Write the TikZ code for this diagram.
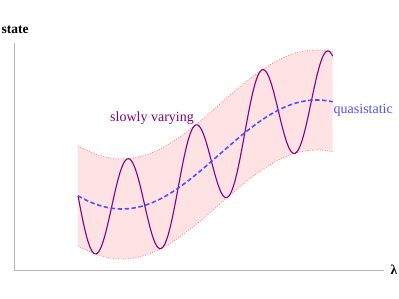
\documentclass[tikz,border=0pt]{standalone}
\usepackage{fontspec}
\setmainfont{Liberation Serif}
\begin{document}
\begin{tikzpicture}[x=1pt,y=-1pt,
  declare function={qq(\t)=154.5+54.5*cos((\t-122)*0.924499);
                    pp(\t)=qq(\t)+50*sin((\t-78)*5.39487);},
  axisline/.style={draw={rgb,255:red,180;green,180;blue,180},line width=0.9pt},
  envline/.style={draw={rgb,255:red,255;green,130;blue,130},line width=0.8pt,dash pattern=on 0.9pt off 1.6pt},
  bandfill/.style={fill={rgb,255:red,255;green,226;blue,228}},
  quasi/.style={draw={rgb,255:red,80;green,80;blue,255},line width=1.6pt,dash pattern=on 4.5pt off 2.5pt},
  slow/.style={draw={rgb,255:red,128;green,0;blue,128},line width=1.1pt},
  lbl/.style={inner sep=0pt,font=\fontsize{14}{16}\selectfont},
  axlbl/.style={inner sep=0pt,font=\fontsize{13.5}{16}\selectfont\bfseries}]
\useasboundingbox (0,0) rectangle (399,299);
% band
\path[bandfill] plot[domain=78:332.7,samples=80] (\x,{qq(\x)-50}) -- plot[domain=332.7:78,samples=80] (\x,{qq(\x)+50}) -- cycle;
\draw[envline] plot[domain=78:332.7,samples=80] (\x,{qq(\x)-50});
\draw[envline] plot[domain=78:332.7,samples=80] (\x,{qq(\x)+50});
% axes
\coordinate (o) at (14.3,270);
\coordinate (ytop) at (14.3,43);
\coordinate (xend) at (384,270);
\draw[axisline] (ytop) -- (o) -- (xend);
\node[axlbl,anchor=base west] (ylab) at (1.5,34) {state};
\node[axlbl,anchor=base west] (xlab) at (390.5,274) {λ};
% curves
\draw[slow] plot[domain=78:332.7,samples=320,smooth] (\x,{pp(\x)});
\draw[quasi] plot[domain=78:332.7,samples=80,smooth] (\x,{qq(\x)});
% labels
\node[lbl,anchor=base west,text={rgb,255:red,128;green,0;blue,128}] (slab) at (110,121.5) {slowly varying};
\node[lbl,anchor=base west,text={rgb,255:red,80;green,80;blue,255}] (qlab) at (333.5,113.3) {quasistatic};
\end{tikzpicture}
\end{document}
